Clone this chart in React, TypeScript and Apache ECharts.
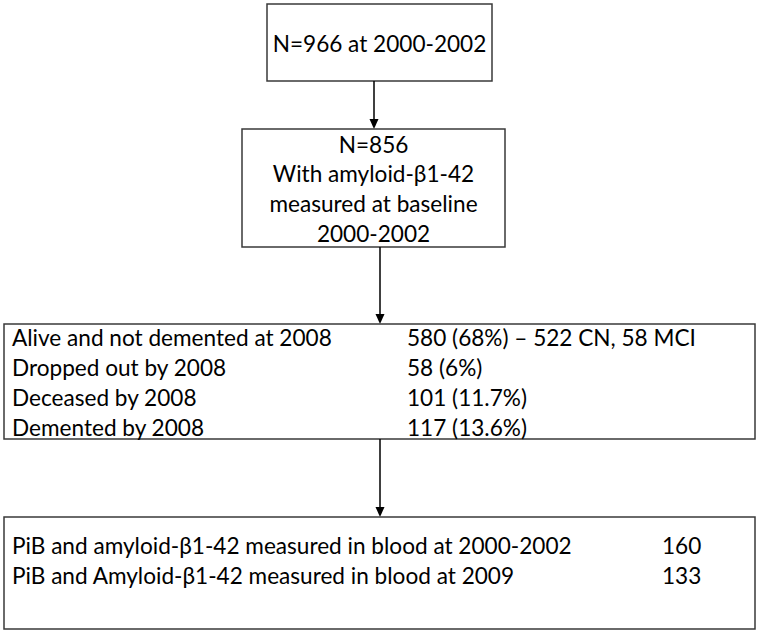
import React, { useEffect, useRef } from "react";
import * as echarts from "echarts";

const topBoxLines = ["N=966 at 2000-2002"];
const baselineBoxLines = ["N=856", "With amyloid-β1-42", "measured at baseline", "2000-2002"];
const followUpLabels = ["Alive and not demented at 2008", "Dropped out by 2008", "Deceased by 2008", "Demented by 2008"];
const followUpValues = ["580 (68%) – 522 CN, 58 MCI", "58 (6%)", "101 (11.7%)", "117 (13.6%)"];
const pibLabels = ["PiB and amyloid-β1-42 measured in blood at 2000-2002", "PiB and Amyloid-β1-42 measured in blood at 2009"];
const pibValues = ["160", "133"];

const FONT = "Lato";
const FS = 22.6;
const BORDER = "#3a3a3a";

function box(x: number, y: number, w: number, h: number) {
  return {
    type: "rect",
    shape: { x, y, width: w, height: h },
    style: { fill: "#fff", stroke: BORDER, lineWidth: 1.5 },
  };
}

function txt(s: string, x: number, y: number, align: string) {
  return {
    type: "text",
    x,
    y,
    style: {
      text: s,
      fill: "#000",
      font: `${FS}px ${FONT}`,
      textAlign: align,
      textVerticalAlign: "middle",
    },
  };
}

function arrow(x: number, y1: number, y2: number) {
  return [
    {
      type: "line",
      shape: { x1: x, y1, x2: x, y2: y2 - 8 },
      style: { stroke: "#000", lineWidth: 1.5 },
    },
    {
      type: "polygon",
      shape: { points: [[x - 4.5, y2 - 10], [x + 4.5, y2 - 10], [x, y2]] },
      style: { fill: "#000" },
    },
  ];
}

export default function App() {
  const ref = useRef<HTMLDivElement>(null);
  useEffect(() => {
    if (!ref.current) return;
    const chart = echarts.init(ref.current, null, { renderer: "svg" });
    const els: any[] = [];
    els.push(box(267, 4, 225, 77));
    topBoxLines.forEach((s, i) => els.push(txt(s, 379.5, 43 + i * 30, "center")));
    els.push(...arrow(374, 81, 129));
    els.push(box(242, 129, 263, 118));
    baselineBoxLines.forEach((s, i) => els.push(txt(s, 373.5, 144 + i * 29.7, "center")));
    els.push(...arrow(380, 247, 324));
    els.push(box(4, 324, 751, 115));
    followUpLabels.forEach((s, i) => els.push(txt(s, 12, 337 + i * 30, "left")));
    followUpValues.forEach((s, i) => els.push(txt(s, 407, 337 + i * 30, "left")));
    els.push(...arrow(380, 439, 517));
    els.push(box(4, 517, 751, 112));
    pibLabels.forEach((s, i) => els.push(txt(s, 12, 545 + i * 30, "left")));
    pibValues.forEach((s, i) => els.push(txt(s, 662, 545 + i * 30, "left")));
    chart.setOption({
      animation: false,
      backgroundColor: "#fff",
      graphic: { elements: els },
    });
    return () => chart.dispose();
  }, []);
  return (
    <div
      ref={ref}
      style={{ position: "absolute", left: 0, top: 0, width: 760, height: 635, background: "#fff" }}
    />
  );
}
